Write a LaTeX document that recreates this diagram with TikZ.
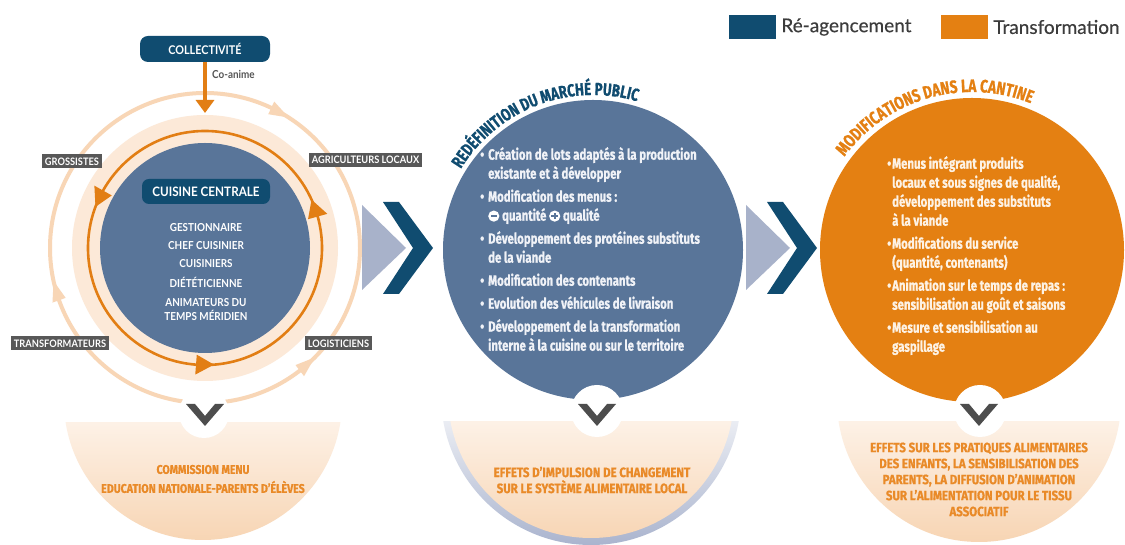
\documentclass[tikz,border=0pt]{standalone}
\usepackage{fontspec}
\setmainfont{Lato}
\newfontfamily\condfont[FakeStretch=0.76,FakeBold=0.8]{Fira Sans}
\newfontfamily\condB[FakeStretch=0.85,FakeBold=0.8]{Fira Sans}
\newfontfamily\labfont[FakeStretch=0.9]{Lato}
\newfontfamily\legfont[FakeBold=0.4]{Lato}
\usetikzlibrary{arrows.meta,decorations.text}
\definecolor{dblue}{RGB}{16,76,112}
\definecolor{slate}{RGB}{89,117,153}
\definecolor{corange}{RGB}{226,126,20}
\definecolor{forange}{RGB}{228,128,18}
\definecolor{bandpeach}{RGB}{252,233,216}
\definecolor{ringpeach}{RGB}{248,214,182}
\definecolor{labgrey}{RGB}{88,88,88}
\definecolor{cgrey}{RGB}{85,85,85}
\definecolor{lightchev}{RGB}{168,178,202}
\definecolor{vgrey}{RGB}{77,77,77}
\definecolor{torange}{RGB}{233,138,40}
\definecolor{sborder}{RGB}{170,180,206}
\definecolor{ptop}{RGB}{253,241,230}
\definecolor{pbot}{RGB}{247,212,178}
\definecolor{mtext}{RGB}{240,242,247}
\definecolor{rtext}{RGB}{253,242,228}
\definecolor{legtext}{RGB}{60,60,60}
\newcommand{\ringtri}[6]{\fill[#6,shift={(#1)}] ({#3+#4}:{#2}) -- ({#3-#4}:{#2+#5}) -- ({#3-#4}:{#2-#5}) -- cycle;}
\newcommand{\minusicon}{\tikz[baseline={(0,-4.6pt)}]{\fill[white] (0,0) circle (5.6pt); \fill[slate] (-3.3pt,-1.1pt) rectangle (3.3pt,1.1pt);}}
\newcommand{\plusicon}{\tikz[baseline={(0,-4.6pt)}]{\fill[white] (0,0) circle (5.6pt); \fill[slate] (-3.3pt,-1.1pt) rectangle (3.3pt,1.1pt); \fill[slate] (-1.1pt,-3.3pt) rectangle (1.1pt,3.3pt);}}
\newcommand{\vmark}[1]{\fill[vgrey] (#1-19,141) -- (#1-10,141) -- (#1,129) -- (#1+10,141) -- (#1+19,141) -- (#1,119) -- cycle;}
\begin{document}
\begin{tikzpicture}[x=1pt,y=1pt,
  box/.style={fill=dblue, rounded corners=8pt, text=white, font=\labfont\bfseries\fontsize{12}{14}\selectfont, inner sep=0pt},
  lab/.style={fill=labgrey, text=white, font=\labfont\bfseries\fontsize{10.3}{11}\selectfont, inner xsep=3pt, inner ysep=0pt, minimum height=14pt},
  staff/.style={text=white, font=\labfont\bfseries\fontsize{11}{12}\selectfont, inner sep=0pt},
  btext/.style={font=\condfont\bfseries\fontsize{15}{19}\selectfont, align=left, inner sep=0pt},
  stext/.style={font=\condB\bfseries\fontsize{13.5}{16}\selectfont, align=center, text=torange, inner sep=0pt},
  legbox/.style={minimum width=47pt, minimum height=24pt, inner sep=0pt},
  legtxt/.style={anchor=west, font=\legfont\fontsize{19}{22}\selectfont, text=legtext, inner sep=0pt}]
\useasboundingbox (0,0) rectangle (1125,545);
\fill[white] (0,0) rectangle (1125,545);

% ---------- left group
\coordinate (L) at (205,297);
\fill[bandpeach] (L) circle (133);
\draw[ringpeach, line width=4pt] (L) circle (155);
\draw[corange, line width=2.6pt] (L) circle (117);
\fill[slate] (L) circle (105);
\ringtri{L}{117}{155}{4.4}{10}{corange}
\ringtri{L}{117}{20}{4.4}{10}{corange}
\ringtri{L}{117}{270}{4.4}{10}{corange}
\ringtri{L}{155}{61}{-3.7}{7}{ringpeach}
\ringtri{L}{155}{196}{-3.7}{7}{ringpeach}
\ringtri{L}{155}{-48.6}{3.7}{7}{ringpeach}

\node[box, minimum width=130pt, minimum height=26pt] (coll) at (205,496) {COLLECTIVITÉ};
\coordinate (arrtip) at (205,432);
\draw[corange, line width=4pt, -{Triangle[width=18pt,length=13pt]}] (coll.south) -- (arrtip);
\node[anchor=west, font=\labfont\bfseries\fontsize{11}{12}\selectfont, text=cgrey, inner sep=0pt] (coanime) at (212,471) {Co-anime};

\node[lab] (gro) at (72,383.5) {GROSSISTES};
\node[lab] (agr) at (365.5,385) {AGRICULTEURS LOCAUX};
\node[lab] (tra) at (60,201.5) {TRANSFORMATEURS};
\node[lab] (log) at (338.5,201.5) {LOGISTICIENS};

\node[box, rounded corners=7pt, minimum width=128pt, minimum height=25pt, font=\labfont\bfseries\fontsize{13}{15}\selectfont] (cc) at (206,353.5) {CUISINE CENTRALE};
\node[staff] (cs1) at (206,317) {GESTIONNAIRE};
\node[staff] (cs2) at (206,299) {CHEF CUISINIER};
\node[staff] (cs3) at (206,281) {CUISINIERS};
\node[staff] (cs4) at (206,263) {DIÉTÉTICIENNE};
\node[staff] (cs5) at (206,242) {ANIMATEURS DU};
\node[staff] (cs6) at (206,230) {TEMPS MÉRIDIEN};

% ---------- chevrons
\fill[lightchev] (362,340) -- (406,297) -- (362,255) -- cycle;
\fill[dblue] (383,343) -- (399,343) -- (433,297) -- (399,251) -- (383,251) -- (413,297) -- cycle;
\begin{scope}[xshift=384pt]
\fill[lightchev] (362,340) -- (406,297) -- (362,255) -- cycle;
\fill[dblue] (383,343) -- (399,343) -- (433,297) -- (399,251) -- (383,251) -- (413,297) -- cycle;
\end{scope}

% ---------- middle circle
\fill[slate] (593,295) circle (150);
\path[decorate, decoration={text along path, text align=center,
  text={|\condfont\bfseries\fontsize{17.5}{20}\selectfont\color{dblue}|REDÉFINITION DU MARCHÉ PUBLIC}}]
  (593,295) ++(158:155) arc[start angle=158, end angle=64, radius=155];
\node[btext, text=mtext, anchor=north west] (mlist) at (488,398) {%
\llap{•\hspace{4pt}}Création de lots adaptés à la production\\
existante et à développer\\[4pt]
\llap{•\hspace{4pt}}Modification des menus :\\
\minusicon\ quantité \plusicon\ qualité\\[4pt]
\llap{•\hspace{4pt}}Développement des protéines substituts\\
de la viande\\[4pt]
\llap{•\hspace{4pt}}Modification des contenants\\[4pt]
\llap{•\hspace{4pt}}Evolution des véhicules de livraison\\[4pt]
\llap{•\hspace{4pt}}Développement de la transformation\\
interne à la cuisine ou sur le territoire};

% ---------- right circle
\fill[forange] (972,295) circle (152);
\path[decorate, decoration={text along path, text align=center,
  text={|\condfont\bfseries\fontsize{18}{20}\selectfont\color{forange}|MODIFICATIONS DANS LA CANTINE}}]
  (972,295) ++(152:158) arc[start angle=152, end angle=60, radius=158];
\node[btext, text=rtext, anchor=north west] (rlist) at (892,389) {%
\llap{•\hspace{1pt}}Menus intégrant produits\\
locaux et sous signes de qualité,\\
développement des substituts\\
à la viande\\[4pt]
\llap{•\hspace{1pt}}Modifications du service\\
(quantité, contenants)\\[4pt]
\llap{•\hspace{1pt}}Animation sur le temps de repas :\\
sensibilisation au goût et saisons\\[4pt]
\llap{•\hspace{1pt}}Mesure et sensibilisation au\\
gaspillage};

% ---------- shields
\begin{scope}
\clip (203,144) circle (139);
\shade[top color=ptop, bottom color=pbot] (50,0) rectangle (360,122);
\end{scope}
\begin{scope}
\clip (591,150) circle (150);
\shade[top color=sborder!25, bottom color=sborder] (430,0) rectangle (760,123);
\end{scope}
\begin{scope}
\clip (591,150) circle (143);
\shade[top color=ptop, bottom color=pbot] (430,0) rectangle (760,123);
\end{scope}
\begin{scope}
\clip (979,145) circle (142);
\shade[top color=ptop, bottom color=pbot] (820,0) rectangle (1125,123);
\end{scope}

\fill[white] (204,132) circle (25);
\fill[white] (597,134) circle (26);
\fill[white] (980,134) circle (26);
\vmark{205}
\vmark{597}
\vmark{979}

\node[stext, font=\condB\bfseries\fontsize{12.5}{19}\selectfont] (sh1) at (203,66) {COMMISSION MENU\\EDUCATION NATIONALE-PARENTS D’ÉLÈVES};
\node[stext] (sh2) at (592,65) {EFFETS D’IMPULSION DE CHANGEMENT\\SUR LE SYSTÈME ALIMENTAIRE LOCAL};
\node[stext] (sh3) at (979,65.5) {EFFETS SUR LES PRATIQUES ALIMENTAIRES\\DES ENFANTS, LA SENSIBILISATION DES\\PARENTS, LA DIFFUSION D’ANIMATION\\SUR L’ALIMENTATION POUR LE TISSU\\ASSOCIATIF};

% ---------- legend
\node[legbox, fill=dblue] (legA) at (752.5,518) {};
\node[legtxt] (legAt) at ([xshift=5pt]legA.east) {Ré-agencement};
\node[legbox, fill=forange] (legB) at (964.5,518) {};
\node[legtxt] (legBt) at ([xshift=5pt]legB.east) {Transformation};
\end{tikzpicture}
\end{document}
